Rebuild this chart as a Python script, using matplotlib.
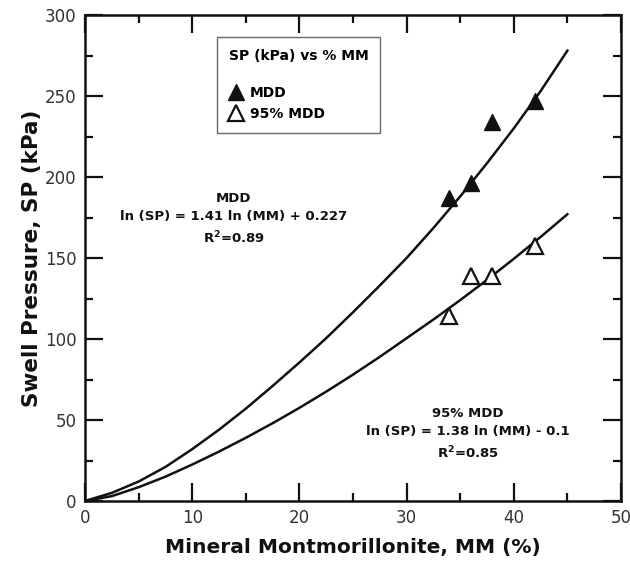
import matplotlib
matplotlib.use('Agg')
import matplotlib.pyplot as plt
from matplotlib.lines import Line2D

plt.rcParams['font.family'] = ['DejaVu Sans']
plt.rcParams['mathtext.fontset'] = 'custom'
plt.rcParams['mathtext.rm'] = 'DejaVu Sans:bold'
plt.rcParams['mathtext.bf'] = 'DejaVu Sans:bold'

# measured points
mm_pts = [34, 36, 38, 42]
sp_mdd = [187, 196, 234, 247]
sp_95 = [114.5, 139, 139, 157.5]

# fitted curves
mm_fit = [0, 2.5, 5, 7.5, 10, 12.5, 15, 17.5, 20, 22.5, 25, 27.5, 30, 32.5, 35, 37.5, 40, 42.5, 45]
fit_mdd = [0, 5, 12, 21, 32, 44, 57, 71, 85.5, 100.5, 116.5, 133, 150, 168.5, 188, 208.5, 230, 253, 278]
fit_95 = [0, 3, 8.5, 15, 22.5, 30.5, 39, 48, 57.5, 67.5, 78, 89, 100.5, 112, 124, 136.5, 149.5, 163, 177]

fig = plt.figure(figsize=(6.3, 5.64), dpi=100)
ax = fig.add_axes([0.1349, 0.1117, 0.8508, 0.8617])

ax.plot(mm_fit, fit_mdd, color='#111111', linewidth=1.8)
ax.plot(mm_fit, fit_95, color='#111111', linewidth=1.8)
ax.plot(mm_pts, sp_mdd, linestyle='none', marker='^', markersize=12,
        color='#111111')
ax.plot(mm_pts, sp_95, linestyle='none', marker='^', markersize=12,
        markerfacecolor='white', markeredgecolor='#111111', markeredgewidth=1.6)

ax.set_xlim(0, 50)
ax.set_ylim(0, 300)
ax.set_xticks(range(0, 51, 10))
ax.set_xticks(range(5, 50, 10), minor=True)
ax.set_yticks(range(0, 301, 50))
ax.set_yticks(range(25, 300, 50), minor=True)
ax.tick_params(which='both', direction='in', top=True, right=True,
               width=1.6, color='#111111', labelsize=12, labelcolor='#333333')
ax.tick_params(which='major', length=13, pad=6)
ax.tick_params(which='minor', length=6)
for s in ax.spines.values():
    s.set_linewidth(1.8)
    s.set_color('#111111')

ax.set_xlabel('Mineral Montmorillonite, MM (%)', fontsize=14.5, fontweight='bold',
              color='#111111', labelpad=8)
ax.set_ylabel('Swell Pressure, SP (kPa)', fontsize=15.5, fontweight='bold',
              color='#111111', labelpad=2)

ax.text(13.9, 174, 'MDD\nln (SP) = 1.41 ln (MM) + 0.227\nR$^{2}$=0.89',
        ha='center', va='center', multialignment='center', fontsize=9.5,
        fontweight='bold', color='#111111', linespacing=1.5)
ax.text(35.7, 41, '95% MDD\nln (SP) = 1.38 ln (MM) - 0.1\nR$^{2}$=0.85',
        ha='center', va='center', multialignment='center', fontsize=9.5,
        fontweight='bold', color='#111111', linespacing=1.5)

handles = [Line2D([], [], linestyle='none', marker='^', markersize=12, color='#111111'),
           Line2D([], [], linestyle='none', marker='^', markersize=12,
                  markerfacecolor='white', markeredgecolor='#111111', markeredgewidth=1.6)]
leg = ax.legend(handles, ['MDD', '95% MDD'], title='SP (kPa) vs % MM\n',
                loc='upper left', bbox_to_anchor=(0.2465, 0.954), frameon=True,
                fancybox=False, edgecolor='#444444', prop={'weight': 'bold', 'size': 10},
                title_fontproperties={'weight': 'bold', 'size': 10},
                handletextpad=0.5, borderpad=0.85, labelspacing=0.5, handlelength=1.0,
                borderaxespad=0)
leg.get_frame().set_linewidth(1.0)
leg._legend_box.align = 'left'

fig.savefig('out.png', dpi=100)
